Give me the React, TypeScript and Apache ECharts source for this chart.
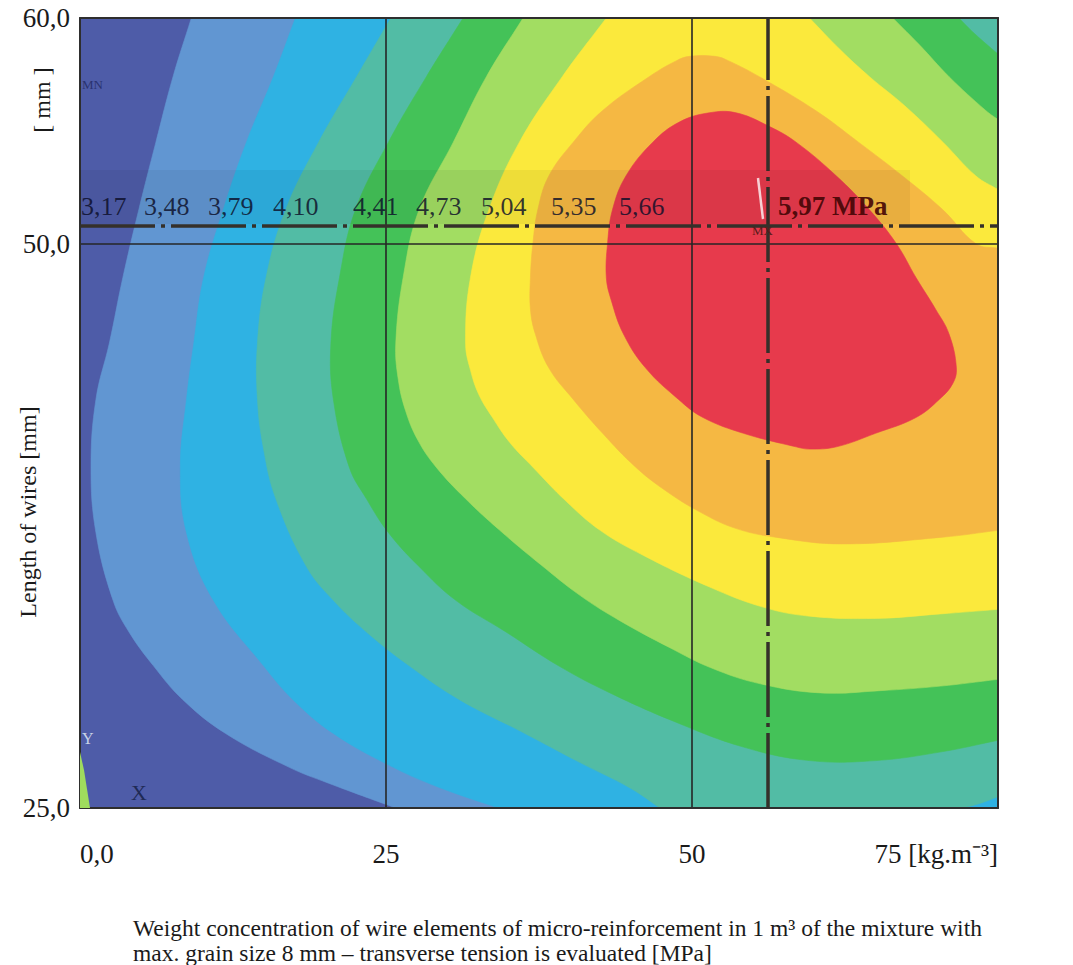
import React, { useEffect, useRef } from 'react';
import * as echarts from 'echarts';

// ---- axes ----
const xTicks = [0, 25, 50, 75];
const xTickLabels = ['0,0', '25', '50', '75 [kg.m⁻³]'];
const yTicks = [25, 50, 60];
const yTickLabels = ['25,0', '50,0', '60,0'];

// ---- contour levels [MPa] and band colours ----
const levels = [3.17, 3.48, 3.79, 4.1, 4.41, 4.73, 5.04, 5.35, 5.66, 5.97];
const bandColors = ['#4e5ca8', '#6196d2', '#2fb2e3', '#52bca5', '#44c258', '#a2dd62', '#fbe93c', '#f5b843', '#e73a4c'];

// ---- regions where tension >= level (x: kg/m3, y: mm) ----
const regionAbove317 = [[0, 25], [75, 25], [75, 60], [0, 60]];
const regionAbove348 = [[9.1, 60], [7.6, 57.4], [6.2, 54.5], [4.8, 51.5], [3.5, 48.5], [2.4, 45.6], [1.3, 43.1], [0.9, 40.1], [1.3, 37.2], [2.7, 34.2], [4.0, 32.8], [6.0, 31.3], [8.4, 29.8], [11.9, 28.3], [17.1, 26.8], [20.3, 26.1], [25.8, 25], [75, 25], [75, 60]];
const regionAbove379 = [[17.6, 60], [15.8, 57.4], [13.6, 54.5], [11.7, 51.5], [10.1, 48.5], [9.3, 45.6], [8.7, 43.1], [8.2, 40.1], [8.7, 37.2], [10.9, 34.2], [15.0, 31.3], [17.4, 29.8], [20.7, 28.3], [25.6, 26.8], [29.4, 25.9], [34.2, 25], [75, 25], [75, 60]];
const regionAbove410 = [[25.4, 60], [22.6, 57.4], [19.5, 54.5], [16.8, 51.5], [15.2, 48.5], [14.5, 45.6], [14.5, 43.1], [15.0, 40.9], [16.0, 38.7], [18.5, 35.7], [20.7, 34.2], [23.4, 32.8], [26.9, 31.3], [31.0, 29.8], [36.0, 28.4], [40.9, 27.0], [44.9, 25.9], [47.4, 25], [72.1, 25], [73.5, 25.2], [75, 25.5], [75, 60]];
const regionAbove441 = [[31.3, 60], [28.3, 57.4], [25.2, 54.5], [22.5, 51.5], [21.2, 48.5], [20.5, 45.6], [20.7, 43.1], [22.0, 40.1], [23.4, 38.7], [25.2, 37.2], [27.7, 35.7], [30.7, 34.2], [34.8, 32.8], [39.1, 31.3], [43.3, 30.1], [48.7, 28.8], [54.2, 27.7], [59.6, 27.1], [65.0, 27.1], [70.5, 27.5], [75, 28.0], [75, 58.4], [73.1, 59.3], [71.8, 60]];
const regionAbove473 = [[36.2, 60], [33.2, 57.4], [30.5, 54.5], [27.7, 51.5], [26.4, 48.5], [25.8, 45.6], [26.0, 44.0], [26.6, 42.6], [27.6, 41.3], [29.1, 40.1], [31.5, 38.7], [34.3, 37.3], [37.6, 35.8], [40.9, 34.4], [44.1, 33.3], [48.2, 32.1], [51.6, 31.2], [55.6, 30.5], [60.5, 30.1], [65.4, 30.2], [70.3, 30.4], [75, 30.7], [75, 55.5], [74.0, 55.9], [71.0, 57.4], [68.6, 58.8], [66.4, 60]];
const regionAbove504 = [[43.0, 60], [39.4, 57.4], [35.9, 54.5], [33.4, 51.5], [31.9, 48.5], [31.5, 45.6], [31.9, 44.4], [32.6, 43.3], [33.7, 42.3], [35.1, 41.2], [37.0, 40.1], [39.7, 38.6], [42.5, 37.3], [46.0, 36.2], [51.4, 34.8], [55.8, 33.9], [59.6, 33.5], [65.0, 33.4], [70.3, 33.6], [75, 33.8], [75, 52.4], [73.2, 53.0], [70.5, 54.5], [67.4, 56.1], [64.5, 57.4], [62.1, 58.6], [59.6, 60]];
const regionAbove535 = [[75, 49.8], [73.2, 50.0], [70.5, 51.5], [67.2, 53.0], [63.6, 54.5], [60.1, 55.9], [55.5, 57.4], [53.0, 58.1], [51.9, 58.3], [49.8, 58.3], [48.7, 58.1], [46.5, 57.4], [42.7, 55.9], [40.3, 54.5], [38.3, 53.0], [37.4, 51.5], [37.0, 50.0], [36.8, 48.5], [36.8, 47.1], [37.2, 46.0], [38.3, 44.5], [40.3, 43.1], [42.7, 41.6], [45.4, 40.1], [48.0, 39.0], [50.7, 38.1], [53.5, 37.4], [56.8, 37.0], [62.3, 36.7], [70.5, 37.0], [75, 37.3]];
const regionAbove566 = [[51.4, 55.8], [53.6, 55.8], [56.3, 55.2], [58.5, 54.5], [61.8, 53.0], [64.5, 51.5], [66.7, 50.0], [68.3, 48.5], [69.9, 47.1], [71.0, 46.0], [71.6, 44.5], [71.3, 43.8], [70.2, 43.1], [68.3, 42.3], [65.0, 41.6], [61.8, 41.0], [59.6, 40.9], [58.5, 41.0], [54.2, 41.6], [50.9, 42.3], [48.9, 43.1], [46.2, 44.5], [44.4, 46.0], [43.4, 47.5], [43.0, 48.5], [43.1, 50.0], [43.5, 51.5], [44.6, 53.0], [46.8, 54.5], [49.0, 55.4]];

// location of the maximum (MX) and reference grid lines
const maxPoint = [56.2, 50.8];
const gridLinesX = [25, 50];
const gridLinesY = [50];

const regions = [regionAbove317, regionAbove348, regionAbove379, regionAbove410, regionAbove441, regionAbove473, regionAbove504, regionAbove535, regionAbove566];

// ---- layout (pixels) ----
const labelLeft = [81, 144, 208, 273, 353, 416, 481, 551, 619, 778];
const SERIF = '"Liberation Serif", "Times New Roman", serif';

const fmt = (v: number, d: number) => v.toFixed(d).replace('.', ',');
const onFrame = (p: number[]) => p[0] <= 0 || p[0] >= 75 || p[1] <= 25 || p[1] >= 60;

export default function App() {
  const ref = useRef<HTMLDivElement>(null);

  useEffect(() => {
    if (!ref.current) return;
    const chart = echarts.init(ref.current, null, { renderer: 'svg' });

    const frameLine = { show: true, onZero: false, lineStyle: { color: '#2e2e2e', width: 2 } };
    const solid = { color: '#262626', width: 1.6, type: 'solid' };
    const dashDot = { color: '#35302a', width: 3.5, type: [75, 6, 4, 6] };

    const graphic: any[] = [
      { type: 'rect', z: 50, shape: { x: 80, y: 170, width: 830, height: 54 }, style: { fill: 'rgba(0,0,0,0.05)' } },
      { type: 'polygon', z: 50, shape: { points: [[80, 752], [84, 770], [90, 808], [80, 808]] }, style: { fill: '#9fdc5e' } },
    ];
    levels.forEach((v, i) => {
      const last = i === levels.length - 1;
      graphic.push({
        type: 'text', z: 60, x: labelLeft[i], y: 219,
        style: {
          text: last ? `${fmt(v, 2)} MPa` : fmt(v, 2),
          font: `${last ? 'bold ' : ''}${last ? 27 : 26}px ${SERIF}`,
          fill: last ? 'rgba(70,6,6,0.92)' : 'rgba(12,14,40,0.82)',
          align: 'left', verticalAlign: 'bottom', textAlign: 'left', textVerticalAlign: 'bottom',
        },
      });
    });
    graphic.push(
      { type: 'line', z: 60, shape: { x1: 758, y1: 178, x2: 763, y2: 219 }, style: { stroke: '#f7d0d4', lineWidth: 2.5 } },
      { type: 'text', z: 60, x: 82, y: 84, style: { text: 'MN', font: `13px ${SERIF}`, fill: '#2a3370', verticalAlign: 'middle', textVerticalAlign: 'middle' } },
      { type: 'text', z: 60, x: 82, y: 738, style: { text: 'Y', font: `16px ${SERIF}`, fill: '#c9d2e6', verticalAlign: 'middle', textVerticalAlign: 'middle' } },
      { type: 'text', z: 60, x: 131, y: 792, style: { text: 'X', font: `22px ${SERIF}`, fill: '#1f2a55', verticalAlign: 'middle', textVerticalAlign: 'middle' } },
      { type: 'text', z: 60, x: 752, y: 230, style: { text: 'MX', font: `13px ${SERIF}`, fill: '#5a1a1a', verticalAlign: 'middle', textVerticalAlign: 'middle' } },
      { type: 'text', z: 60, x: 42, y: 100, rotation: Math.PI / 2, style: { text: '[ mm ]', font: `24px ${SERIF}`, fill: '#1a1a1a', align: 'center', verticalAlign: 'middle', textAlign: 'center', textVerticalAlign: 'middle' } },
      { type: 'text', z: 60, x: 28, y: 512, rotation: Math.PI / 2, style: { text: 'Length of wires [mm]', font: `24px ${SERIF}`, fill: '#1a1a1a', align: 'center', verticalAlign: 'middle', textAlign: 'center', textVerticalAlign: 'middle' } },
      { type: 'text', z: 60, x: 133, y: 928, style: { text: 'Weight concentration of wire elements of micro-reinforcement in 1 m³ of the mixture with', font: `23.5px ${SERIF}`, fill: '#1a1a1a', verticalAlign: 'middle', textVerticalAlign: 'middle' } },
      { type: 'text', z: 60, x: 133, y: 953, style: { text: 'max. grain size 8 mm – transverse tension is evaluated [MPa]', font: `23.5px ${SERIF}`, fill: '#1a1a1a', verticalAlign: 'middle', textVerticalAlign: 'middle' } },
    );

    const option: any = {
      animation: false,
      backgroundColor: '#ffffff',
      grid: { left: 80, right: 75, top: 18, bottom: 157, containLabel: false },
      xAxis: [
        {
          type: 'value', min: 0, max: 75, interval: 25, position: 'bottom', z: 10,
          axisLine: frameLine, axisTick: { show: false }, splitLine: { show: false },
          axisLabel: {
            margin: 32, fontFamily: SERIF, fontSize: 27, color: '#1a1a1a',
            alignMinLabel: 'left', alignMaxLabel: 'right',
            formatter: (v: number) => { const i = xTicks.indexOf(v); return i >= 0 ? xTickLabels[i] : ''; },
          },
        },
        {
          type: 'value', min: 0, max: 75, position: 'top', z: 10,
          axisLine: frameLine, axisTick: { show: false }, splitLine: { show: false }, axisLabel: { show: false },
        },
      ],
      yAxis: [
        {
          type: 'value', min: 25, max: 60, interval: 5, position: 'left', z: 10,
          axisLine: frameLine, axisTick: { show: false }, splitLine: { show: false },
          axisLabel: {
            margin: 10, fontFamily: SERIF, fontSize: 27, color: '#1a1a1a',
            formatter: (v: number) => { const i = yTicks.indexOf(v); return i >= 0 ? yTickLabels[i] : ''; },
          },
        },
        {
          type: 'value', min: 25, max: 60, position: 'right', z: 10,
          axisLine: frameLine, axisTick: { show: false }, splitLine: { show: false }, axisLabel: { show: false },
        },
      ],
      series: [
        {
          type: 'custom', z: 2, clip: true, silent: true,
          data: regions.map((r) => r[0]),
          renderItem: (params: any, api: any) => {
            const poly = regions[params.dataIndex];
            const pts: number[][] = [];
            poly.forEach((p) => {
              const c = api.coord(p);
              pts.push(c);
              // frame points are doubled so the smoothed outline keeps sharp corners there
              if (onFrame(p)) pts.push([c[0], c[1]]);
            });
            const tl = api.coord([0, 60]);
            const br = api.coord([75, 25]);
            const c = bandColors[params.dataIndex];
            return {
              type: 'polygon',
              shape: { points: pts, smooth: 0.4, smoothConstraint: [[tl[0], tl[1]], [br[0], br[1]]] },
              style: { fill: c, stroke: c, lineWidth: 0.6 },
            };
          },
        },
        {
          type: 'line', z: 5, data: [], silent: true,
          markLine: {
            silent: true, symbol: ['none', 'none'], label: { show: false }, animation: false,
            data: [
              ...gridLinesX.map((x) => ({ xAxis: x, lineStyle: solid })),
              ...gridLinesY.map((y) => ({ yAxis: y, lineStyle: solid })),
              { xAxis: maxPoint[0], lineStyle: dashDot },
              { yAxis: maxPoint[1], lineStyle: dashDot },
            ],
          },
        },
      ],
      graphic,
    };

    chart.setOption(option);
    return () => chart.dispose();
  }, []);

  return (
    <div
      ref={ref}
      style={{ position: 'fixed', left: 0, top: 0, width: '1073px', height: '965px', background: '#fff' }}
    />
  );
}
